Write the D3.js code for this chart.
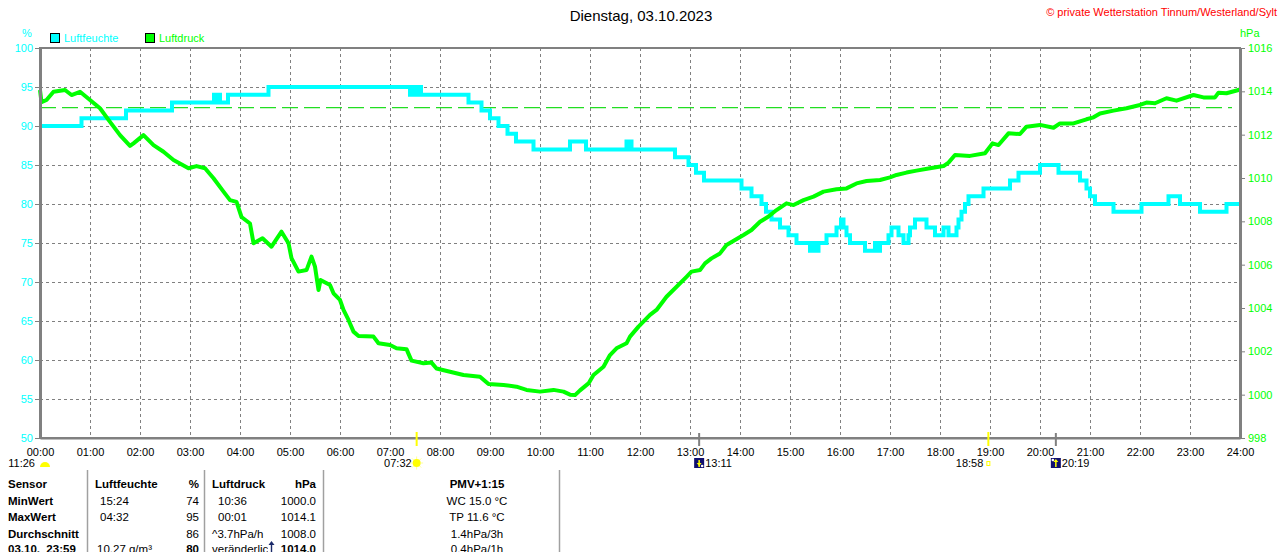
<!DOCTYPE html>
<html lang="de">
<head>
<meta charset="UTF-8">
<title>Dienstag, 03.10.2023</title>
<script src="https://d3js.org/d3.v7.min.js"></script>
<style>
    body { margin: 0; background: #fff; }
    svg { display: block; font-family: "Liberation Sans", Arial, sans-serif; }
</style>
</head>
<body>
<div id="chart"></div>
<script>
// axis ticks
const hourTicks = d3.range(0, 25);
const humTicks = [50, 55, 60, 65, 70, 75, 80, 85, 90, 95, 100];
const presTicks = [998, 1000, 1002, 1004, 1006, 1008, 1010, 1012, 1014, 1016];
const refPressure = 1013.25;

// Luftfeuchte (%), step series: time in hours where the value starts
const humTimes = [0, 0.83, 1.72, 2.64, 3.48, 3.52, 3.55, 3.6, 3.76, 4.57, 7.4, 7.44, 7.5, 7.55, 7.62,
    8.57, 8.83, 9.0, 9.17, 9.35, 9.52, 9.87, 10.6, 10.92, 11.73, 11.77, 11.8, 11.83,
    12.7, 12.97, 13.12, 13.28, 14.03, 14.23, 14.43, 14.52, 14.63, 14.8, 14.97, 15.13, 15.4, 15.45, 15.5,
    15.57, 15.73, 15.93, 16.02, 16.07, 16.13, 16.2, 16.5, 16.7, 16.73, 16.8, 16.97, 17.03, 17.17,
    17.27, 17.37, 17.4, 17.5, 17.73, 17.9, 18.07, 18.17, 18.33, 18.37, 18.43, 18.5, 18.57, 18.63, 18.87, 18.9,
    19.4, 19.57, 20.0, 20.37, 20.8, 20.93, 21.0, 21.1, 21.47, 22.03, 22.57, 22.8, 23.2, 23.73, 23.77, 24];
const humValues = [90, 91, 92, 93, 94, 93, 94, 93, 94, 95, 94, 95, 94, 95, 94,
    93, 92, 91, 90, 89, 88, 87, 88, 87, 88, 87, 88, 87,
    86, 85, 84, 83, 82, 81, 80, 79, 78, 77, 76, 75, 74, 75, 74,
    75, 76, 77, 78, 77, 76, 75, 74, 75, 74, 75, 76, 77, 76,
    75, 76, 77, 78, 77, 76, 77, 76, 77, 78, 79, 80, 81, 81, 82, 82,
    83, 84, 85, 84, 83, 82, 81, 80, 79, 80, 81, 80, 79, 80, 80, 80];

// Luftdruck (hPa)
const presTimes = [0, 0.03, 0.13, 0.27, 0.5, 0.63, 0.8, 1.0, 1.2, 1.37, 1.6, 1.8, 1.87, 2.07, 2.27, 2.47,
    2.67, 2.97, 3.13, 3.3, 3.47, 3.67, 3.8, 3.93, 4.03, 4.2, 4.27, 4.45, 4.63, 4.83, 4.97, 5.03,
    5.17, 5.33, 5.43, 5.5, 5.57, 5.61, 5.8, 5.87, 6.0, 6.07, 6.17, 6.27, 6.37, 6.67, 6.77, 7.0,
    7.13, 7.33, 7.43, 7.67, 7.83, 7.93, 8.2, 8.47, 8.8, 8.97, 9.27, 9.53, 9.73, 10.0, 10.27, 10.47,
    10.6, 10.7, 10.8, 10.97, 11.07, 11.27, 11.4, 11.53, 11.73, 11.8, 11.97, 12.2, 12.33, 12.53,
    12.93, 13.03, 13.2, 13.3, 13.43, 13.6, 13.73, 13.9, 14.07, 14.23, 14.4, 14.57, 14.73, 14.93,
    15.07, 15.27, 15.47, 15.67, 15.93, 16.13, 16.33, 16.53, 16.8, 17.0, 17.13, 17.33, 17.53, 17.8,
    18.07, 18.17, 18.3, 18.6, 18.9, 19.05, 19.17, 19.37, 19.6, 19.73, 20.0, 20.27, 20.4, 20.67,
    20.93, 21.07, 21.2, 21.47, 21.73, 22.0, 22.13, 22.3, 22.53, 22.73, 23.07, 23.27, 23.5, 23.57,
    23.73, 23.97, 24];
const presValues = [1014.06, 1013.5, 1013.6, 1013.98, 1014.06, 1013.83, 1013.98, 1013.6, 1013.22, 1012.68,
    1011.98, 1011.48, 1011.6, 1011.98, 1011.52, 1011.21, 1010.83, 1010.45, 1010.55, 1010.45, 1009.99,
    1009.37, 1008.98, 1008.9, 1008.2, 1007.9, 1006.99, 1007.22, 1006.83, 1007.52, 1006.99, 1006.3,
    1005.68, 1005.75, 1006.37, 1005.91, 1004.83, 1005.29, 1005.06, 1004.68, 1004.37, 1003.91, 1003.45,
    1002.91, 1002.71, 1002.68, 1002.37, 1002.29, 1002.14, 1002.1, 1001.57, 1001.45, 1001.48, 1001.21,
    1001.06, 1000.91, 1000.83, 1000.49, 1000.45, 1000.37, 1000.22, 1000.14, 1000.22, 1000.14,
    1000.0, 999.98, 1000.2, 1000.52, 1000.91, 1001.29, 1001.83, 1002.14, 1002.37, 1002.68, 1003.14,
    1003.68, 1003.91, 1004.52, 1005.44, 1005.68, 1005.75, 1006.06, 1006.29, 1006.52, 1006.91, 1007.14,
    1007.37, 1007.6, 1007.98, 1008.22, 1008.52, 1008.83, 1008.75, 1008.98, 1009.14, 1009.37, 1009.48,
    1009.52, 1009.75, 1009.86, 1009.91, 1010.03, 1010.14, 1010.25, 1010.34, 1010.45, 1010.55, 1010.71,
    1011.06, 1011.02, 1011.14, 1011.6, 1011.52, 1012.06, 1012.03, 1012.37, 1012.45, 1012.32, 1012.52,
    1012.52, 1012.71, 1012.8, 1012.98, 1013.11, 1013.22, 1013.37, 1013.48, 1013.45, 1013.68, 1013.57,
    1013.83, 1013.72, 1013.72, 1013.94, 1013.91, 1014.06, 1014.1];

// sun / moon events below the time axis
const eventLabels = ["11:26", "07:32", "13:11", "18:58", "20:19"];
const eventTimes = [0, 7.533, 13.183, 18.967, 20.317];
const eventKinds = ["daylength", "sunrise", "moonset", "sunset", "moonrise"];

// summary table
const tableHead = ["Sensor", "Luftfeuchte", "%", "Luftdruck", "hPa", "PMV+1:15"];
const rowLabels = ["MinWert", "MaxWert", "Durchschnitt", "03.10.  23:59"];
const humInfo = ["15:24", "04:32", "", "10,27 g/m³"];
const humStats = ["74", "95", "86", "80"];
const presInfo = ["10:36", "00:01", "^3.7hPa/h", "veränderlich"];
const presStats = ["1000.0", "1014.1", "1008.0", "1014.0"];
const pmvInfo = ["WC 15.0 °C", "TP 11.6 °C", "1.4hPa/3h", "0.4hPa/1h"];

const W = 1280, H = 552;
const cyan = "#00ffff", green = "#00ff00", grey = "#808080";
const plot = {left: 40, right: 1240, top: 48, bottom: 438};

const svg = d3.select("#chart").append("svg")
    .attr("width", W).attr("height", H);

const x = d3.scaleLinear().domain([0, 24]).range([plot.left, plot.right]);
const yHum = d3.scaleLinear().domain([50, 100]).range([plot.bottom, plot.top]);
const yPres = d3.scaleLinear().domain([998, 1016]).range([plot.bottom, plot.top]);

// title + copyright
svg.append("text")
    .attr("x", 641).attr("y", 21)
    .attr("text-anchor", "middle")
    .attr("font-size", "15px")
    .text("Dienstag, 03.10.2023");

svg.append("text")
    .attr("x", 1277).attr("y", 16)
    .attr("text-anchor", "end")
    .attr("font-size", "11px")
    .attr("fill", "#ff0000")
    .text("© private Wetterstation Tinnum/Westerland/Sylt");

// unit labels
svg.append("text").attr("x", 22).attr("y", 37)
    .attr("font-size", "11px").attr("fill", cyan).text("%");
svg.append("text").attr("x", 1240).attr("y", 37)
    .attr("font-size", "11px").attr("fill", green).text("hPa");

// legend
const legend = [{name: "Luftfeuchte", color: cyan, x: 50}, {name: "Luftdruck", color: green, x: 145}];
legend.forEach(d => {
    svg.append("rect")
        .attr("x", d.x + 0.5).attr("y", 33.5)
        .attr("width", 9).attr("height", 9)
        .attr("fill", d.color).attr("stroke", "#000");
    svg.append("text")
        .attr("x", d.x + 14).attr("y", 42)
        .attr("font-size", "11px").attr("fill", d.color)
        .text(d.name);
});

// grid
const grid = svg.append("g")
    .attr("stroke", grey).attr("stroke-width", 1).attr("stroke-dasharray", "3,3");
grid.selectAll(".v").data(hourTicks.slice(1, -1)).join("line")
    .attr("x1", d => Math.round(x(d)) + 0.5).attr("x2", d => Math.round(x(d)) + 0.5)
    .attr("y1", plot.top).attr("y2", plot.bottom);
grid.selectAll(".h").data(humTicks.slice(1, -1)).join("line")
    .attr("x1", plot.left).attr("x2", plot.right)
    .attr("y1", d => Math.round(yHum(d)) + 0.5).attr("y2", d => Math.round(yHum(d)) + 0.5);

// standard pressure reference line
svg.append("line")
    .attr("x1", plot.left).attr("x2", 1232)
    .attr("y1", yPres(refPressure)).attr("y2", yPres(refPressure))
    .attr("stroke", "#22dd22").attr("stroke-width", 1.3)
    .attr("stroke-dasharray", "16,6");

// humidity step line
const humData = humTimes.map((t, i) => ({t: t, v: humValues[i]}));
svg.append("path")
    .datum(humData)
    .attr("fill", "none")
    .attr("stroke", cyan)
    .attr("stroke-width", 4)
    .attr("d", d3.line().curve(d3.curveStepAfter).x(d => x(d.t)).y(d => yHum(d.v)));

// pressure line
const presData = presTimes.map((t, i) => ({t: t, v: presValues[i]}));
svg.append("path")
    .datum(presData)
    .attr("fill", "none")
    .attr("stroke", green)
    .attr("stroke-width", 4)
    .attr("stroke-linejoin", "round")
    .attr("d", d3.line().x(d => x(d.t)).y(d => yPres(d.v)));

// frame
svg.append("rect")
    .attr("x", plot.left).attr("y", plot.top)
    .attr("width", plot.right - plot.left).attr("height", plot.bottom - plot.top)
    .attr("fill", "none").attr("stroke", grey).attr("stroke-width", 2);

// left axis
const axL = svg.append("g")
    .attr("transform", `translate(${plot.left},0)`)
    .call(d3.axisLeft(yHum).tickValues(humTicks).tickSize(5).tickSizeOuter(0).tickPadding(2));
// right axis
const axR = svg.append("g")
    .attr("transform", `translate(${plot.right},0)`)
    .call(d3.axisRight(yPres).tickValues(presTicks).tickSize(5).tickSizeOuter(0).tickPadding(3)
        .tickFormat(d3.format("d")));
// bottom axis
const axB = svg.append("g")
    .attr("transform", `translate(0,${plot.bottom})`)
    .call(d3.axisBottom(x).tickValues(hourTicks).tickSize(0).tickSizeOuter(0).tickPadding(10)
        .tickFormat(d => d3.format("02")(d) + ":00"));

[axL, axR, axB].forEach(a => {
    a.attr("font-family", null).attr("font-size", null);
    a.select(".domain").attr("stroke", grey).attr("stroke-width", 3);
    a.selectAll("line").attr("stroke", grey);
    a.selectAll("text").attr("font-size", "11px");
});
axB.select(".domain").attr("stroke-width", 2);
axL.selectAll("text").attr("fill", cyan);
axR.selectAll("text").attr("fill", green);
axB.selectAll("text").attr("fill", "#000");

// sun / moon markers
eventTimes.forEach((t, i) => {
    const ex = x(t), kind = eventKinds[i];
    const g = svg.append("g");
    if (kind === "sunrise" || kind === "sunset") {
        g.append("line").attr("x1", ex).attr("x2", ex).attr("y1", 432).attr("y2", 446)
            .attr("stroke", "#ffff00").attr("stroke-width", 2);
    } else if (kind === "moonset" || kind === "moonrise") {
        g.append("line").attr("x1", ex).attr("x2", ex).attr("y1", 433).attr("y2", 446)
            .attr("stroke", grey).attr("stroke-width", 2);
    }
    const moon = kind === "moonset" || kind === "moonrise";
    g.append("text")
        .attr("x", moon ? ex + 6 : ex - 5)
        .attr("y", 467)
        .attr("text-anchor", moon ? "start" : "end")
        .attr("font-size", "11px")
        .text(eventLabels[i]);
    if (kind === "daylength") {
        g.append("path").attr("d", `M${ex},467 A5,5 0 0 1 ${ex + 10},467 Z`).attr("fill", "#ffff00");
    } else if (kind === "sunrise") {
        d3.range(8).forEach(k => {
            const a = k * Math.PI / 4;
            g.append("line")
                .attr("x1", ex + Math.cos(a) * 4).attr("y1", 463 + Math.sin(a) * 4)
                .attr("x2", ex + Math.cos(a) * 6.5).attr("y2", 463 + Math.sin(a) * 6.5)
                .attr("stroke", "#ffff99").attr("stroke-width", 1);
        });
        g.append("circle").attr("cx", ex).attr("cy", 463).attr("r", 4).attr("fill", "#ffff00");
    } else if (kind === "sunset") {
        g.append("rect").attr("x", ex - 1.5).attr("y", 461.5).attr("width", 3).attr("height", 4)
            .attr("fill", "none").attr("stroke", "#ffff00");
    } else {
        g.append("rect").attr("x", ex - 5).attr("y", 458).attr("width", 10).attr("height", 10)
            .attr("fill", "#101070");
        const up = kind === "moonrise";
        g.append("line").attr("x1", ex).attr("x2", ex).attr("y1", 460).attr("y2", 467)
            .attr("stroke", "#ffff00").attr("stroke-width", 1.5);
        g.append("path")
            .attr("d", up ? `M${ex - 2.5},462 L${ex},459 L${ex + 2.5},462 Z` : `M${ex - 2.5},463 L${ex},466 L${ex + 2.5},463 Z`)
            .attr("fill", "#ffff00");
        g.append("circle").attr("cx", up ? ex - 3 : ex + 3).attr("cy", up ? 460 : 466).attr("r", 1.3).attr("fill", "#fff");
    }
});

// table
const sepX = [87, 204, 323, 559];
svg.selectAll(".sep").data(sepX).join("line")
    .attr("x1", d => d + 0.5).attr("x2", d => d + 0.5)
    .attr("y1", 470).attr("y2", H)
    .attr("stroke", "#a0a0a0").attr("stroke-width", 1.5);

const rowY = [488, 505, 521, 537.5, 553];
const tbl = svg.append("g").attr("font-size", "11.5px").attr("fill", "#000");
function cell(txt, cx, cy, anchor, bold) {
    tbl.append("text")
        .attr("x", cx).attr("y", cy)
        .attr("text-anchor", anchor)
        .attr("font-weight", bold ? "bold" : null)
        .attr("xml:space", "preserve")
        .text(txt);
}
cell(tableHead[0], 8, rowY[0], "start", true);
cell(tableHead[1], 95, rowY[0], "start", true);
cell(tableHead[2], 199, rowY[0], "end", true);
cell(tableHead[3], 212, rowY[0], "start", true);
cell(tableHead[4], 316, rowY[0], "end", true);
cell(tableHead[5], 477, rowY[0], "middle", true);
rowLabels.forEach((lab, i) => {
    const cy = rowY[i + 1];
    const last = i === rowLabels.length - 1;
    cell(lab, 8, cy, "start", true);
    cell(humInfo[i], last ? 97 : 100, cy, "start", false);
    cell(humStats[i], 199, cy, "end", last);
    cell(presInfo[i], i < 2 ? 218 : 212, cy, "start", false);
    cell(presStats[i], 316, cy, "end", last);
    cell(pmvInfo[i], 477, cy, "middle", false);
});
// tendency arrow next to "veränderlich"
tbl.append("rect").attr("x", 268).attr("y", 541).attr("width", 7).attr("height", 11).attr("fill", "#fff");
tbl.append("path").attr("d", "M271.5,541 L268.5,545 L270.8,545 L270.8,552 L272.2,552 L272.2,545 L274.5,545 Z")
    .attr("fill", "#1a2a6a");
</script>
</body>
</html>
